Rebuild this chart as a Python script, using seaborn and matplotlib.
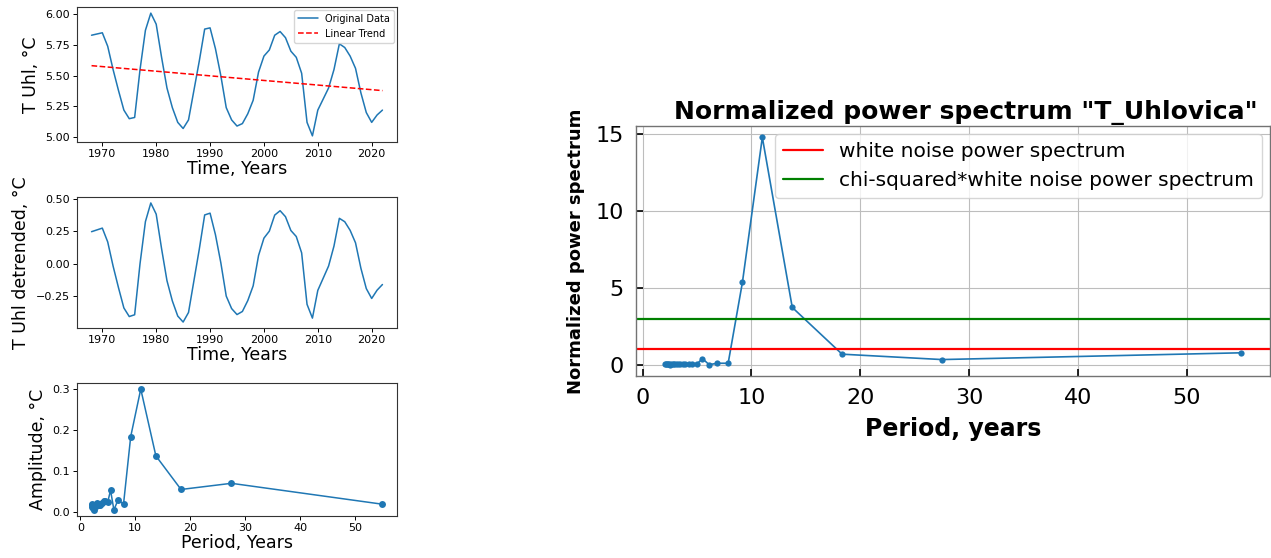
import numpy as np
import pandas as pd
import matplotlib
matplotlib.use('Agg')
import matplotlib.pyplot as plt
import seaborn as sns

# Annual mean temperature, Uhlovica
years = np.arange(1968, 2023)
temp = [5.83, 5.84, 5.85, 5.74, 5.55, 5.38, 5.22, 5.15, 5.16, 5.55,
        5.87, 6.01, 5.92, 5.65, 5.40, 5.24, 5.12, 5.07, 5.14, 5.38,
        5.62, 5.88, 5.89, 5.72, 5.50, 5.24, 5.14, 5.09, 5.11, 5.19,
        5.30, 5.53, 5.66, 5.71, 5.83, 5.86, 5.81, 5.70, 5.65, 5.52,
        5.12, 5.01, 5.22, 5.31, 5.40, 5.55, 5.76, 5.73, 5.66, 5.56,
        5.36, 5.20, 5.12, 5.18, 5.22]

# Fourier periods (55/k) with amplitude and normalized power
periods = [55.0, 27.5, 18.33, 13.75, 11.0, 9.17, 7.86, 6.875, 6.11, 5.5,
           5.0, 4.58, 4.23, 3.93, 3.67, 3.44, 3.24, 3.06, 2.89, 2.75,
           2.62, 2.5, 2.39, 2.29, 2.2, 2.12, 2.04]
amplitude = [0.019, 0.070, 0.055, 0.137, 0.300, 0.184, 0.019, 0.030, 0.005, 0.053,
             0.025, 0.027, 0.026, 0.022, 0.018, 0.016, 0.020, 0.022, 0.015, 0.018,
             0.014, 0.005, 0.010, 0.017, 0.019, 0.016, 0.012]
power = [0.77, 0.33, 0.68, 3.72, 14.78, 5.35, 0.09, 0.09, 0.0, 0.39,
         0.05, 0.06, 0.06, 0.04, 0.03, 0.03, 0.05, 0.05, 0.02, 0.03,
         0.02, 0.0, 0.01, 0.03, 0.04, 0.03, 0.02]
white_noise = 1.0
chi2_level = 3.0

sns.set_style("ticks")
plt.rcParams.update({'text.color': 'black', 'axes.labelcolor': 'black',
                     'xtick.color': 'black', 'ytick.color': 'black'})

df = pd.DataFrame({'year': years, 'temp': temp})
coef = np.polyfit(df['year'], df['temp'], 1)
df['trend'] = np.polyval(coef, df['year'])
df['detr'] = df['temp'] - df['trend']
spec = pd.DataFrame({'period': periods, 'amp': amplitude, 'power': power})

W, H = 1271, 558
fig = plt.figure(figsize=(W / 100, H / 100), dpi=100)

def box(x0, y0, x1, y1):
    return [x0 / W, 1 - y1 / H, (x1 - x0) / W, (y1 - y0) / H]

blue = '#1f77b4'
ax1 = fig.add_axes(box(77, 7, 397, 142))
ax2 = fig.add_axes(box(77, 197, 397, 328))
ax3 = fig.add_axes(box(77, 383, 397, 516))
ax4 = fig.add_axes(box(636, 126, 1270, 376))

# Original data + trend
sns.lineplot(data=df, x='year', y='temp', ax=ax1, color=blue, lw=1.1, label='Original Data')
sns.lineplot(data=df, x='year', y='trend', ax=ax1, color='red', lw=1.1, ls='--', label='Linear Trend')
ax1.legend(loc='upper right', fontsize=7, borderaxespad=0.3)
ax1.set_ylabel('T Uhl, °C', fontsize=12.5)
ax1.set_yticks([5.0, 5.25, 5.5, 5.75, 6.0])

# Detrended
sns.lineplot(data=df, x='year', y='detr', ax=ax2, color=blue, lw=1.1)
ax2.set_ylabel('T Uhl detrended, °C', fontsize=12.5)
ax2.set_yticks([-0.25, 0.0, 0.25, 0.5])

for ax in (ax1, ax2):
    ax.set_xlabel('Time, Years', fontsize=12.5, labelpad=1)
    ax.set_xticks([1970, 1980, 1990, 2000, 2010, 2020])

# Amplitude spectrum
sns.lineplot(data=spec, x='period', y='amp', ax=ax3, color=blue, lw=1.1,
             marker='o', markersize=5, markeredgewidth=0)
ax3.set_xlabel('Period, Years', fontsize=12.5, labelpad=1)
ax3.set_ylabel('Amplitude, °C', fontsize=12.5)
ax3.set_xticks([0, 10, 20, 30, 40, 50])
ax3.set_yticks([0.0, 0.1, 0.2, 0.3])

for ax in (ax1, ax2, ax3):
    ax.tick_params(labelsize=8, length=3, width=0.7, pad=2)
    for s in ax.spines.values():
        s.set_linewidth(0.8)
        s.set_color('0.2')

# Normalized power spectrum
sns.lineplot(data=spec, x='period', y='power', ax=ax4, color=blue, lw=1.2,
             marker='o', markersize=4.5, markeredgewidth=0)
ax4.axhline(white_noise, color='red', lw=1.6, label='white noise power spectrum')
ax4.axhline(chi2_level, color='green', lw=1.6, label='chi-squared*white noise power spectrum')
ax4.legend(loc='upper right', fontsize=14.5, borderaxespad=0.4)
ax4.set_title('Normalized power spectrum "T_Uhlovica"', fontsize=18, fontweight='bold',
              pad=5, x=0.52)
ax4.set_xlabel('Period, years', fontsize=17, fontweight='bold', labelpad=6)
ax4.set_ylabel('Normalized power spectrum', fontsize=13, fontweight='bold', labelpad=7)
ax4.set_xticks([0, 10, 20, 30, 40, 50])
ax4.set_yticks([0, 5, 10, 15])
ax4.grid(True, color='#bdbdbd', lw=0.8)
ax4.tick_params(direction='in', labelsize=16, length=5, width=1.2, color='black', pad=9)
for s in ax4.spines.values():
    s.set_color('0.45')
    s.set_linewidth(1.0)

fig.savefig('out.png', dpi=100)
